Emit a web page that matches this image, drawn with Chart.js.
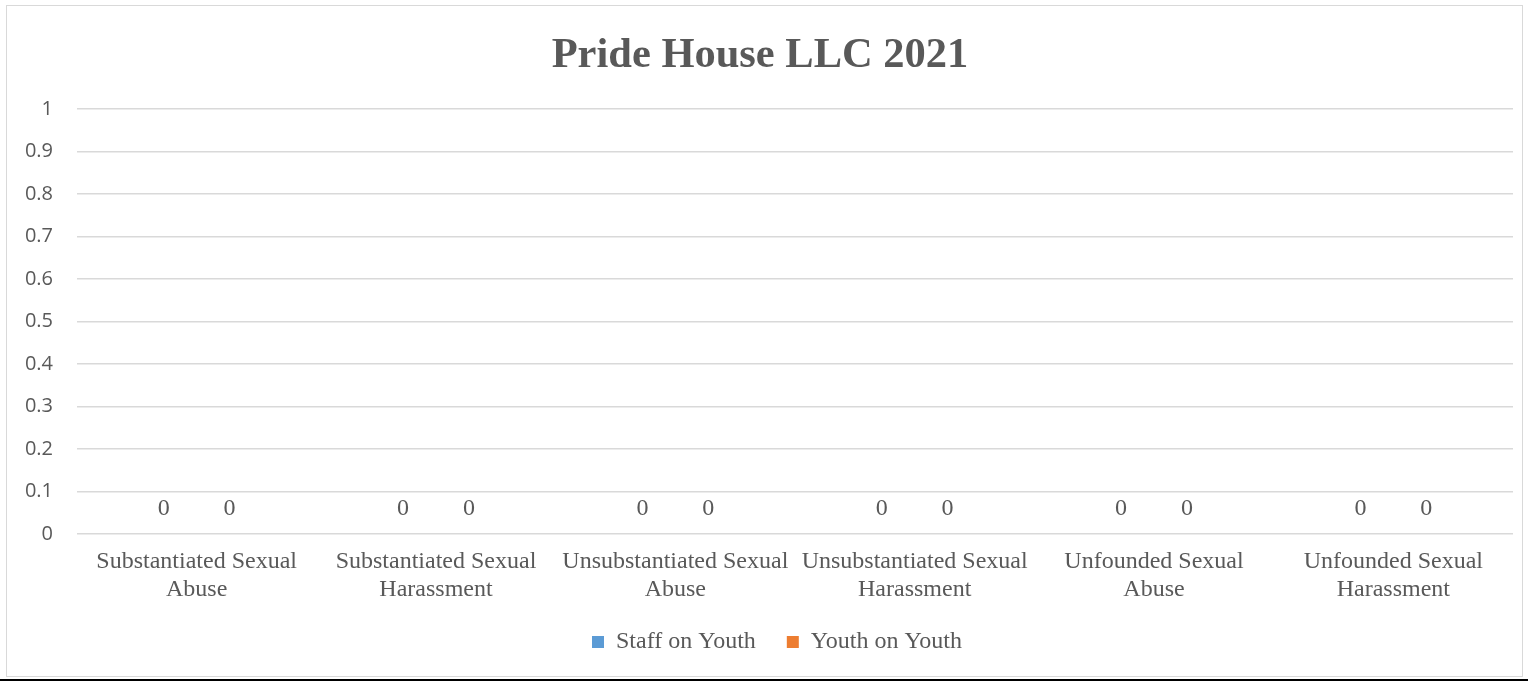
<!DOCTYPE html>
<html>
<head>
<meta charset="utf-8">
<script src="https://cdn.jsdelivr.net/npm/chart.js@4"></script>
<style>
  html, body { margin: 0; padding: 0; background: #fff; }
  body { width: 1528px; height: 682px; position: relative; overflow: hidden; }
  #frame { position: absolute; left: 6px; top: 5px; width: 1515px; height: 670px; border: 1px solid #d9d9d9; }
  #frame canvas { display: block; }
  #rule { position: absolute; left: 0; top: 679px; width: 1528px; height: 2px; background: #000; }
</style>
</head>
<body>
<div id="frame"><canvas id="myChart" width="1515" height="670"></canvas></div>
<div id="rule"></div>
<script>
var categories = [
    ['Substantiated Sexual', 'Abuse'],
    ['Substantiated Sexual', 'Harassment'],
    ['Unsubstantiated Sexual', 'Abuse'],
    ['Unsubstantiated Sexual', 'Harassment'],
    ['Unfounded Sexual', 'Abuse'],
    ['Unfounded Sexual', 'Harassment']
];
var staffOnYouth = [0, 0, 0, 0, 0, 0];
var youthOnYouth = [0, 0, 0, 0, 0, 0];
var seriesNames = ['Staff on Youth', 'Youth on Youth'];
var yTicks = [0, 0.1, 0.2, 0.3, 0.4, 0.5, 0.6, 0.7, 0.8, 0.9, 1];

var serif = '"Liberation Serif", "Times New Roman", serif';
var textGrey = '#595959';

// writes the value above each bar, like the excel data labels
const valueLabels = {
    id: 'valueLabels',
    afterDatasetsDraw(chart) {
        const ctx = chart.ctx;
        const y0 = chart.scales.y.getPixelForValue(0);
        ctx.save();
        ctx.font = '24px ' + serif;
        ctx.fillStyle = textGrey;
        ctx.textAlign = 'center';
        ctx.textBaseline = 'alphabetic';
        chart.data.datasets.forEach(function (ds, i) {
            chart.getDatasetMeta(i).data.forEach(function (bar, j) {
                ctx.fillText(String(ds.data[j]), bar.x, y0 - 19);
            });
        });
        ctx.restore();
    }
};

// excel puts the legend a bit right of centre, nudge it over
const legendNudge = {
    id: 'legendNudge',
    afterLayout(chart) {
        chart.legend.left += 17;
        chart.legend.right += 17;
    }
};

const ctx = document.getElementById('myChart').getContext('2d');
const myChart = new Chart(ctx, {
    type: 'bar',
    data: {
        labels: categories,
        datasets: [{
            label: seriesNames[0],
            data: staffOnYouth,
            backgroundColor: '#5B9BD5',
            borderWidth: 0
        }, {
            label: seriesNames[1],
            data: youthOnYouth,
            backgroundColor: '#ED7D31',
            borderWidth: 0
        }]
    },
    options: {
        responsive: false,
        animation: false,
        layout: { padding: { left: 0, right: 9, top: 0, bottom: 12 } },
        categoryPercentage: 0.55,
        barPercentage: 1,
        plugins: {
            title: {
                display: true,
                text: 'Pride House LLC 2021',
                color: textGrey,
                font: { family: serif, size: 42.5, weight: 'bold', lineHeight: 1.2 },
                padding: { top: 25, bottom: 27 }
            },
            legend: {
                position: 'bottom',
                labels: {
                    color: textGrey,
                    font: { family: serif, size: 24 },
                    boxWidth: 12,
                    boxHeight: 12,
                    padding: 31
                }
            },
            tooltip: { enabled: false }
        },
        scales: {
            x: {
                grid: { display: false, drawTicks: false },
                border: { display: false },
                ticks: {
                    color: textGrey,
                    font: { family: serif, size: 24, lineHeight: 1.17 },
                    padding: 14,
                    maxRotation: 0,
                    autoSkip: false
                },
                afterFit: function (scale) { scale.height = 65; }
            },
            y: {
                min: 0,
                max: 1,
                afterBuildTicks: function (scale) {
                    scale.ticks = yTicks.map(function (v) { return { value: v }; });
                },
                grid: { color: '#d9d9d9', lineWidth: 1.5, drawTicks: false },
                border: { display: false },
                ticks: {
                    color: textGrey,
                    font: { family: '"Open Sans", sans-serif', size: 20 },
                    padding: 24,
                    callback: function (v) { return String(Math.round(v * 10) / 10); }
                },
                afterFit: function (scale) { scale.width = 70; }
            }
        }
    },
    plugins: [valueLabels, legendNudge]
});
</script>
</body>
</html>
